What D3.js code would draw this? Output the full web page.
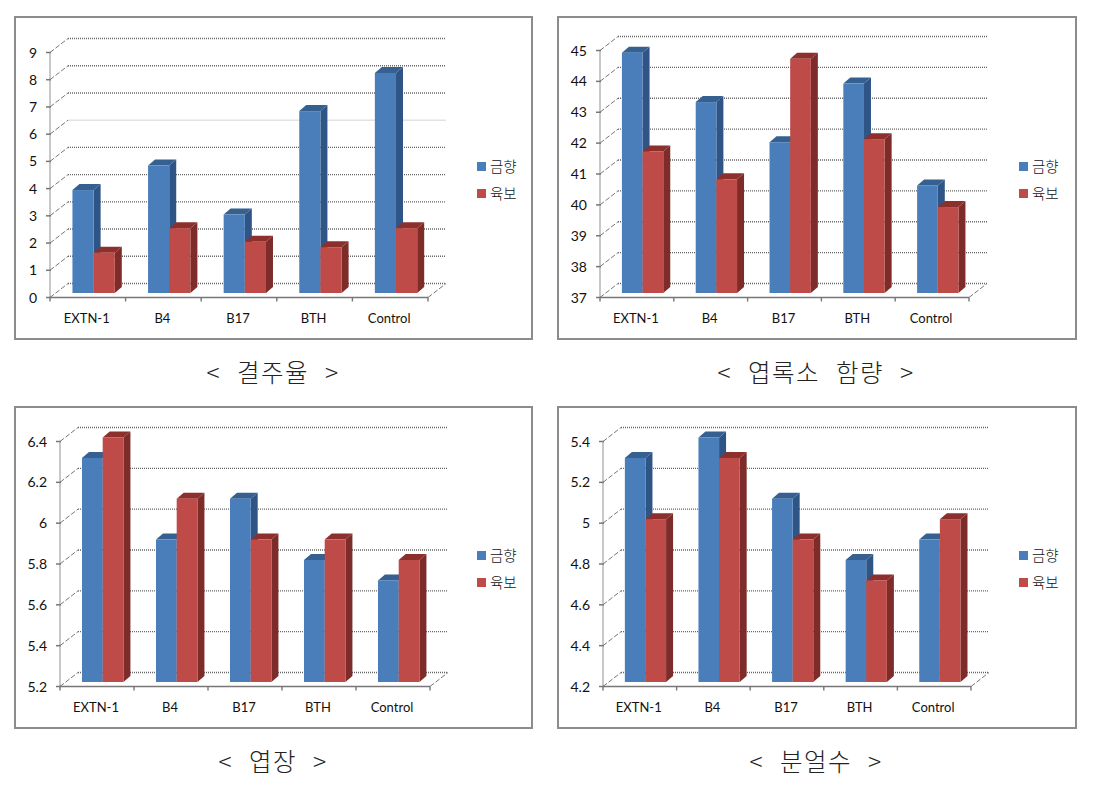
<!DOCTYPE html>
<html><head><meta charset="utf-8"><script src="https://cdn.jsdelivr.net/npm/d3@7"></script>
<style>html,body{margin:0;background:#fff}svg{display:block}</style></head><body><svg id="c" width="1098" height="787"></svg>
<script>
const categories=["EXTN-1","B4","B17","BTH","Control"];
const seriesNames=["금향","육보"];
const chlorBlue=[44.8,43.2,41.9,43.8,40.5], chlorRed=[41.6,40.7,44.6,42.0,39.8];
const missBlue=[3.8,4.7,2.9,6.7,8.1], missRed=[1.5,2.4,1.9,1.7,2.4];
const lenBlue=[6.3,5.9,6.1,5.8,5.7], lenRed=[6.4,6.1,5.9,5.9,5.8];
const tillBlue=[5.3,5.4,5.1,4.8,4.9], tillRed=[5.0,5.3,4.9,4.7,5.0];
const missTicks=[0,1,2,3,4,5,6,7,8,9];
const chlorTicks=[37,38,39,40,41,42,43,44,45];
const lenTicks=[5.2,5.4,5.6,5.8,6,6.2,6.4];
const tillTicks=[4.2,4.4,4.6,4.8,5,5.2,5.4];
const titles=["< 결주율 >","< 엽록소 함량 >","< 엽장 >","< 분얼수 >"];
const panels=[
 {box:[15,17,517,322],ax:[50,428,52.5,297.5],ticks:missTicks,b:missBlue,r:missRed,title:titles[0],tx:273,ty:373,ly:[166,193],lx:477,faint:6},
 {box:[558,17,518,322],ax:[600,969,50.5,297.5],ticks:chlorTicks,b:chlorBlue,r:chlorRed,title:titles[1],tx:816,ty:373,ly:[166,193],lx:1019},
 {box:[15,407,517,321],ax:[60,430,441.5,686.5],ticks:lenTicks,b:lenBlue,r:lenRed,title:titles[2],tx:273,ty:762,ly:[555,582],lx:477},
 {box:[558,407,518,321],ax:[603,971,441.5,686.5],ticks:tillTicks,b:tillBlue,r:tillRed,title:titles[3],tx:816,ty:762,ly:[555,582],lx:1019}];
const svg=d3.select("#c"), DX=18, DY=14, FONT="Lato,'Noto Sans CJK KR',sans-serif";
const cols=[{f:"#4a7ebb",t:"#35608f",s:"#2f5587"},{f:"#be4b48",t:"#8c2f2d",s:"#7d2c2a"}];
panels.forEach((p,pi)=>{
 const g=svg.append("g");
 g.append("rect").attr("x",p.box[0]).attr("y",p.box[1]).attr("width",p.box[2]).attr("height",p.box[3]).attr("fill","#fff").attr("stroke","#8c8c8c").attr("stroke-width",2);
 const [x0,x1,yT,yB]=p.ax;
 const y=d3.scaleLinear().domain(d3.extent(p.ticks)).range([yB,yT]);
 const x=d3.scaleBand().domain(categories).range([x0,x1]);
 p.ticks.forEach(t=>{
  const faint=t===p.faint;
  g.append("line").attr("x1",x0+DX).attr("x2",x1+DX).attr("y1",y(t)-DY).attr("y2",y(t)-DY).attr("stroke",faint?"#d4d4d4":"#666").attr("stroke-width",faint?1:1.4).attr("stroke-dasharray",faint?null:"1 1");
  g.append("line").attr("x1",x0).attr("x2",x0+DX).attr("y1",y(t)).attr("y2",y(t)-DY).attr("stroke","#777").attr("stroke-dasharray","5 2");
  g.append("line").attr("x1",x0-4).attr("x2",x0+1).attr("y1",y(t)).attr("y2",y(t)).attr("stroke","#777").attr("stroke-width",1.5);
  g.append("text").attr("x",x0-13).attr("y",y(t)+5).attr("text-anchor","end").attr("font-family",FONT).attr("font-size",14).attr("fill","#111").text(t);
 });
 g.append("line").attr("x1",x1).attr("x2",x1+DX).attr("y1",yB).attr("y2",yB-DY).attr("stroke","#777").attr("stroke-dasharray","5 2");
 g.append("line").attr("x1",x0).attr("x2",x0).attr("y1",yT).attr("y2",yB).attr("stroke","#777").attr("stroke-width",1.6).attr("stroke-dasharray","1 1");
 g.append("line").attr("x1",x0).attr("x2",x1).attr("y1",yB).attr("y2",yB).attr("stroke","#777").attr("stroke-width",1.6);
 const step=x.bandwidth();
 d3.range(6).forEach(i=>g.append("line").attr("x1",x0+i*step).attr("x2",x0+i*step).attr("y1",yB).attr("y2",yB+4).attr("stroke","#777").attr("stroke-width",1.4));
 const w=step*0.28, off=step*0.297, bd=7, bh=6, base=yB-4.5;
 categories.forEach((c,ci)=>{
  [p.b,p.r].forEach((vals,si)=>{
   const bx=x(c)+off+si*w, top=y(vals[ci])-4, col=cols[si];
   g.append("path").attr("fill",col.s).attr("d",d3.line()([[bx+w,top],[bx+w+bd,top-bh],[bx+w+bd,base-bh],[bx+w,base]]));
   g.append("path").attr("fill",col.t).attr("d",d3.line()([[bx,top],[bx+bd,top-bh],[bx+w+bd,top-bh],[bx+w,top]]));
   g.append("rect").attr("x",bx).attr("y",top).attr("width",w).attr("height",base-top).attr("fill",col.f);
  });
  g.append("text").attr("x",x(c)+step/2-1).attr("y",yB+25).attr("text-anchor","middle").attr("font-family",FONT).attr("font-size",13).attr("fill","#111").text(c);
 });
 seriesNames.forEach((n,i)=>{
  g.append("rect").attr("x",p.lx).attr("y",p.ly[i]-4).attr("width",9).attr("height",9).attr("fill",cols[i].f);
  g.append("text").attr("x",p.lx+13).attr("y",p.ly[i]+5.5).attr("font-family","'Noto Sans CJK KR',sans-serif").attr("font-weight",300).attr("font-size",14.5).attr("fill","#111").text(n);
 });
 g.append("text").attr("x",p.tx).attr("y",p.ty+9).attr("text-anchor","middle").attr("font-family","'Noto Sans CJK KR',sans-serif").attr("font-weight",300).attr("font-size",24.5).attr("letter-spacing",1.5).attr("word-spacing",9).attr("fill","#222").text(p.title);
});
</script></body></html>
